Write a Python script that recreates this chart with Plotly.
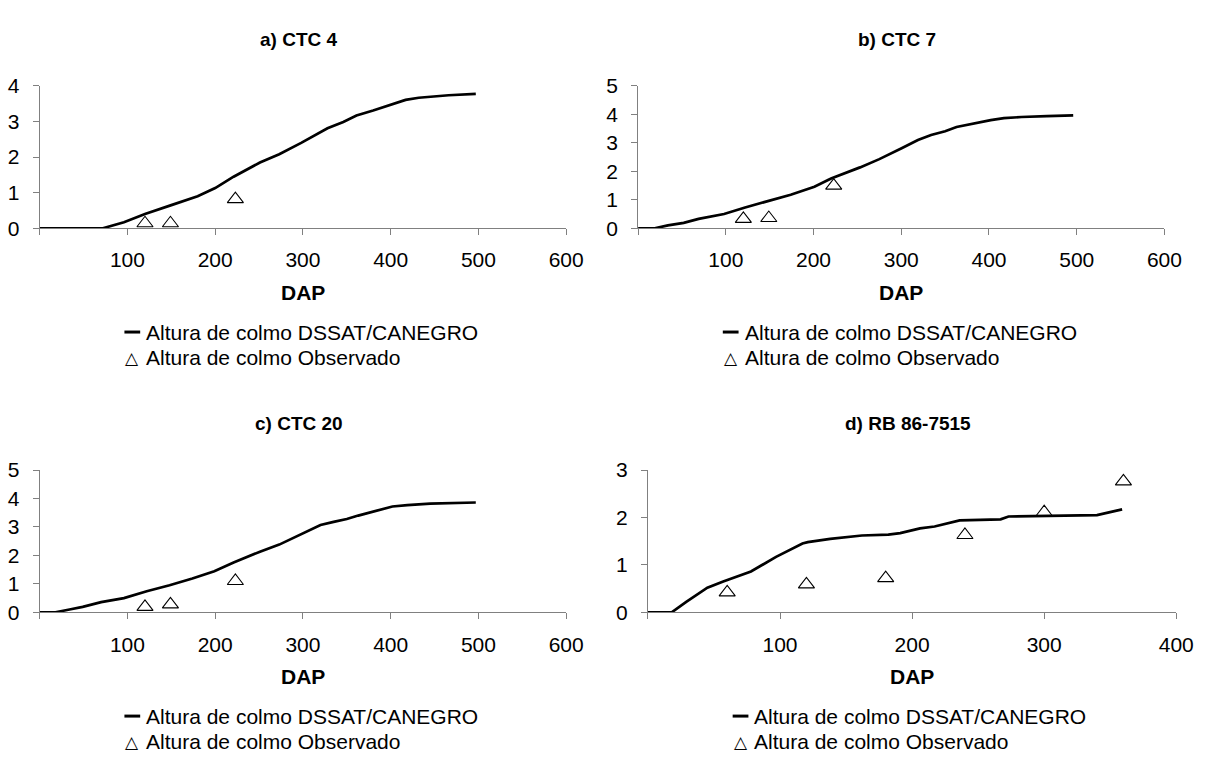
import plotly.graph_objects as go

# ---- data ----
titles = ["a) CTC 4", "b) CTC 7", "c) CTC 20", "d) RB 86-7515"]
sim_name = "Altura de colmo DSSAT/CANEGRO"
obs_name = "Altura de colmo Observado"

dap_a = [0, 72, 96, 120, 150, 169, 180, 200, 221, 251, 273, 298, 328, 346, 361, 380, 397, 417, 432, 466, 497]
alt_a = [0, 0, 0.17, 0.4, 0.65, 0.81, 0.9, 1.13, 1.45, 1.85, 2.08, 2.4, 2.81, 2.99, 3.17, 3.31, 3.45, 3.61, 3.67, 3.74, 3.78]
obs_dap_a = [120, 149, 223]
obs_alt_a = [0.14, 0.14, 0.82]

dap_b = [0, 19, 34, 52, 69, 98, 122, 148, 174, 201, 220, 253, 275, 301, 319, 334, 350, 363, 385, 402, 417, 437, 466, 496]
alt_b = [0, 0, 0.1, 0.19, 0.33, 0.5, 0.73, 0.95, 1.18, 1.46, 1.75, 2.14, 2.43, 2.82, 3.1, 3.28, 3.41, 3.56, 3.7, 3.8, 3.87, 3.91, 3.94, 3.97]
obs_dap_b = [120, 149, 223]
obs_alt_b = [0.33, 0.36, 1.5]

dap_c = [0, 18, 34, 49, 70, 96, 122, 148, 174, 199, 221, 251, 273, 298, 320, 335, 350, 363, 385, 402, 419, 445, 497]
alt_c = [0, 0, 0.1, 0.19, 0.36, 0.5, 0.74, 0.95, 1.19, 1.44, 1.75, 2.13, 2.38, 2.75, 3.07, 3.18, 3.28, 3.4, 3.58, 3.72, 3.77, 3.82, 3.86]
obs_dap_c = [120, 149, 223]
obs_alt_c = [0.19, 0.28, 1.1]

dap_d = [0, 18, 29, 45, 57, 65, 78, 97, 117, 121, 138, 162, 182, 191, 206, 217, 236, 267, 273, 340, 359]
alt_d = [0, 0, 0.22, 0.52, 0.65, 0.73, 0.86, 1.17, 1.45, 1.48, 1.55, 1.62, 1.64, 1.67, 1.77, 1.81, 1.94, 1.96, 2.02, 2.05, 2.17]
obs_dap_d = [60, 120, 180, 240, 300, 360]
obs_alt_d = [0.42, 0.59, 0.72, 1.63, 2.11, 2.76]

x_ticks_600 = [0, 100, 200, 300, 400, 500, 600]
x_ticks_400 = [0, 100, 200, 300, 400]

# ---- layout geometry (pixels in 1212x762 canvas) ----
W, H = 1212, 762
FONT = "Arial, Liberation Sans, sans-serif"
TICK_SIZE = 21
panels = [
    dict(sim=(dap_a, alt_a), obs=(obs_dap_a, obs_alt_a), xr=600, xt=x_ticks_600, yr=4,
         x0=40.3, x1=574.7, ybot=223, ytop=76.3),
    dict(sim=(dap_b, alt_b), obs=(obs_dap_b, obs_alt_b), xr=600, xt=x_ticks_600, yr=5,
         x0=647.7, x1=1182, ybot=223, ytop=76.3),
    dict(sim=(dap_c, alt_c), obs=(obs_dap_c, obs_alt_c), xr=600, xt=x_ticks_600, yr=5,
         x0=40.3, x1=574.7, ybot=619, ytop=472.3),
    dict(sim=(dap_d, alt_d), obs=(obs_dap_d, obs_alt_d), xr=400, xt=x_ticks_400, yr=3,
         x0=657.7, x1=1194, ybot=619, ytop=472.3),
]

def px(x):
    return x / W

def py(y):
    return 1 - y / H

fig = go.Figure()
layout = dict(width=W, height=H, margin=dict(l=0, r=0, t=0, b=0),
              paper_bgcolor="white", plot_bgcolor="white", showlegend=False,
              font=dict(family=FONT, color="black", size=TICK_SIZE),
              annotations=[], shapes=[])

for i, p in enumerate(panels):
    n = i + 1
    xa = "x" if n == 1 else f"x{n}"
    ya = "y" if n == 1 else f"y{n}"
    fig.add_trace(go.Scatter(x=p["sim"][0], y=p["sim"][1], mode="lines", name=sim_name,
                             line=dict(color="black", width=2.7), xaxis=xa, yaxis=ya,
                             cliponaxis=False))
    fig.add_trace(go.Scatter(x=p["obs"][0], y=p["obs"][1], mode="markers", name=obs_name,
                             marker=dict(symbol="triangle-up-open", size=14, color="black",
                                         line=dict(width=1.1, color="black")),
                             xaxis=xa, yaxis=ya, cliponaxis=False))
    axcommon = dict(showgrid=False, zeroline=False, showline=True, linecolor="#808080",
                    linewidth=1, ticks="outside", ticklen=6, tickcolor="#808080",
                    tickfont=dict(size=TICK_SIZE, color="black", family=FONT), fixedrange=True)
    layout["xaxis" if n == 1 else f"xaxis{n}"] = dict(
        domain=[px(p["x0"]), px(p["x1"])], range=[0, p["xr"]], tickvals=p["xt"],
        ticktext=[""] + [str(v) for v in p["xt"][1:]], anchor=ya,
        ticklabelstandoff=7, **axcommon)
    layout["yaxis" if n == 1 else f"yaxis{n}"] = dict(
        domain=[py(p["ybot"]), py(p["ytop"])], range=[0, p["yr"]],
        tickvals=list(range(p["yr"] + 1)), anchor=xa, ticklabelstandoff=9, **axcommon)
    cx = (p["x0"] + p["x1"]) / 2
    # panel title
    layout["annotations"].append(dict(text=f"<b>{titles[i]}</b>", x=px(cx - 4),
                                      y=py(p["ybot"] - 195), xref="paper", yref="paper",
                                      xanchor="center", yanchor="middle", showarrow=False,
                                      font=dict(size=19, family=FONT)))
    # x axis title
    layout["annotations"].append(dict(text="<b>DAP</b>", x=px(cx), y=py(p["ybot"] + 66),
                                      xref="paper", yref="paper", xanchor="center",
                                      yanchor="middle", showarrow=False,
                                      font=dict(size=21, family=FONT)))
    # legend (drawn as text rows below each panel)
    lx = p["x0"] + 86
    r1 = p["ybot"] + 107
    r2 = p["ybot"] + 133
    layout["shapes"].append(dict(type="line", xref="paper", yref="paper",
                                 x0=px(lx), x1=px(lx + 16), y0=py(r1), y1=py(r1),
                                 line=dict(color="black", width=3)))
    layout["annotations"].append(dict(text=sim_name, x=px(lx + 20), y=py(r1), xref="paper",
                                      yref="paper", xanchor="left", yanchor="middle",
                                      showarrow=False, font=dict(size=TICK_SIZE, family=FONT)))
    layout["annotations"].append(dict(text="\u25b3", x=px(lx + 8), y=py(r2 + 1), xref="paper",
                                      yref="paper", xanchor="center", yanchor="middle",
                                      showarrow=False,
                                      font=dict(size=17, family="DejaVu Sans")))
    layout["annotations"].append(dict(text=obs_name, x=px(lx + 20), y=py(r2), xref="paper",
                                      yref="paper", xanchor="left", yanchor="middle",
                                      showarrow=False, font=dict(size=TICK_SIZE, family=FONT)))

fig.update_layout(**layout)
fig.write_html("out.html", config={"displayModeBar": False},
               post_script="document.body.style.margin='0px';")
